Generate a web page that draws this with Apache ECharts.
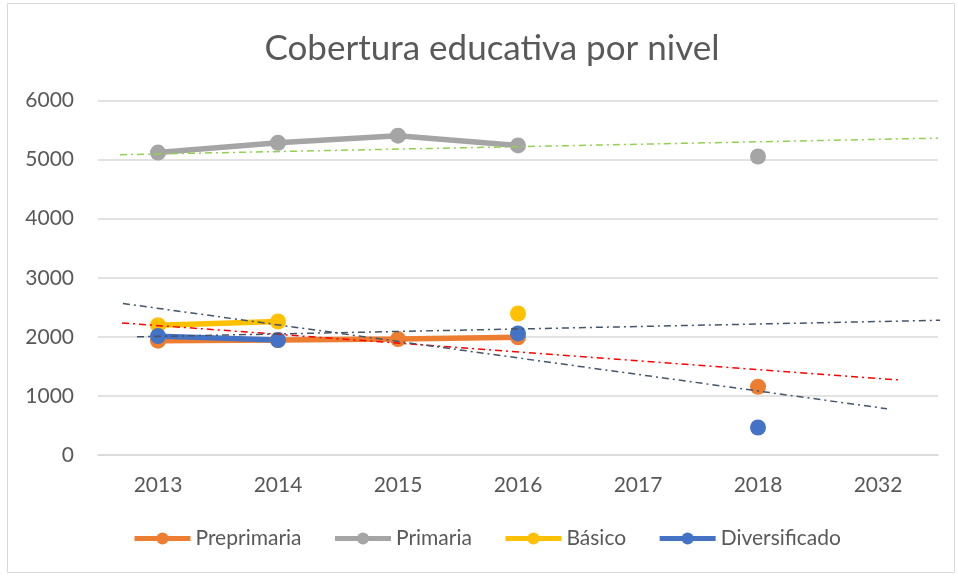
<!DOCTYPE html>
<html>
<head>
<meta charset="utf-8">
<script src="https://cdn.jsdelivr.net/npm/echarts@6/dist/echarts.min.js"></script>
<style>
html,body{margin:0;padding:0;background:#fff;}
#c{width:958px;height:576px;}
</style>
</head>
<body>
<div id="c"></div>
<script>
// Categories and values
var categories = ['2013', '2014', '2015', '2016', '2017', '2018', '2032'];
var preprimaria = [1935, 1945, 1962, 1992, null, 1155, null];
var primaria = [5118, 5285, 5405, 5240, null, 5052, null];
var basico = [2197, 2260, null, 2395, null, null, null];
var diversificado = [2012, 1945, null, 2058, null, 465, null];
// Trendline endpoints [category position, value] (position 0..7 spans the axis)
var trendPrimaria = [[0.183, 5082], [7.0, 5363]];
var trendRed = [[0.2, 2236], [6.69, 1268]];
var trendSteep = [[0.208, 2564], [6.575, 783]];
var trendFlat = [[0.325, 2000], [7.058, 2282]];
var yTicks = [0, 1000, 2000, 3000, 4000, 5000, 6000];

var FONT = 'Lato';
var chart = echarts.init(document.getElementById('c'));
function mainSeries(name, data, color) {
  return {
    name: name, type: 'line', data: data, connectNulls: false,
    symbol: 'circle', symbolSize: 16,
    lineStyle: {color: color, width: 5.5},
    itemStyle: {color: color},
    emphasis: {disabled: true}, z: 3
  };
}
function trend(data, color) {
  return {
    type: 'line', xAxisIndex: 1, data: data, symbol: 'none', clip: false,
    lineStyle: {color: color, width: 1.5, type: [7, 4, 2, 4]},
    silent: true, z: 5, legendHoverLink: false
  };
}
chart.setOption({
  animation: false,
  backgroundColor: '#fff',
  graphic: [{type: 'rect', shape: {x: 7.5, y: 3.5, width: 947, height: 569},
    style: {fill: 'none', stroke: '#D9D9D9', lineWidth: 1}, silent: true}],
  title: {text: 'Cobertura educativa por nivel', left: 487, top: 26, textAlign: 'center',
    textStyle: {fontFamily: FONT, fontSize: 35, fontWeight: 'normal', color: '#595959'}},
  legend: {
    data: ['Preprimaria', 'Primaria', 'Básico', 'Diversificado'],
    left: 127, top: 523, itemWidth: 56, itemHeight: 15, itemGap: 31,
    lineStyle: {width: 5},
    textStyle: {fontFamily: FONT, fontSize: 21, color: '#595959'}
  },
  grid: {left: 98, right: 20, top: 100.5, bottom: 121, containLabel: false},
  xAxis: [{
    type: 'category', data: categories, boundaryGap: true,
    axisLine: {lineStyle: {color: '#D9D9D9', width: 1.5}},
    axisTick: {show: false},
    axisLabel: {fontFamily: FONT, fontSize: 21, color: '#595959', margin: 20}
  }, {
    type: 'value', min: 0, max: 7, show: false
  }],
  yAxis: {
    type: 'value', min: yTicks[0], max: yTicks[yTicks.length - 1], interval: 1000,
    axisLine: {show: false}, axisTick: {show: false},
    splitLine: {lineStyle: {color: '#D9D9D9', width: 1.5}},
    axisLabel: {fontFamily: FONT, fontSize: 21, color: '#595959', margin: 24,
      formatter: function (v) { return String(v); }}
  },
  series: [
    mainSeries('Preprimaria', preprimaria, '#ED7D31'),
    mainSeries('Primaria', primaria, '#A5A5A5'),
    mainSeries('Básico', basico, '#FFC000'),
    mainSeries('Diversificado', diversificado, '#4472C4'),
    trend(trendPrimaria, '#92D050'),
    trend(trendRed, '#FF0000'),
    trend(trendSteep, '#44546A'),
    trend(trendFlat, '#44546A')
  ]
});
</script>
</body>
</html>
